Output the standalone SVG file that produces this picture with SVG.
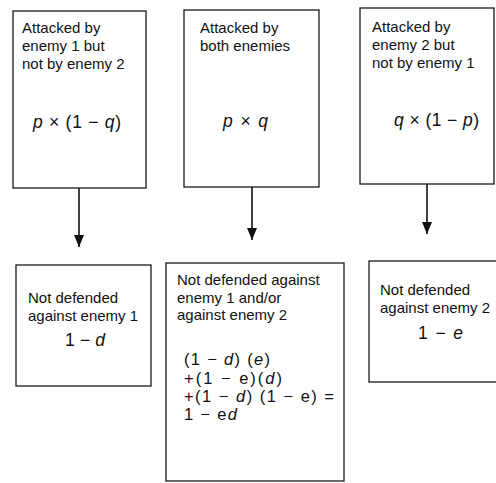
<svg xmlns="http://www.w3.org/2000/svg" width="496" height="483" viewBox="0 0 496 483">
<style>
.box{fill:#fff;stroke:#1a1a1a;stroke-width:1.3}
.t{font-family:"Liberation Sans",Arial,sans-serif;font-size:15px;fill:#111}
.f{font-family:"Liberation Sans",Arial,sans-serif;font-size:17.5px;fill:#111}
.g{font-family:"Liberation Sans",Arial,sans-serif;font-size:16.5px;fill:#111}
.i{font-style:italic}
.edge{stroke:#111;stroke-width:1.6;fill:none}
</style>
<defs>
<marker id="ah" viewBox="0 0 12 10" refX="12" refY="5" markerWidth="12" markerHeight="10" markerUnits="userSpaceOnUse" orient="auto">
<path d="M0,0 L12,5 L0,10 Z" fill="#111"/>
</marker>
</defs>
<rect width="496" height="483" fill="#fff"/>
<g id="connectors">
<line class="edge" x1="79" y1="188" x2="79" y2="247" marker-end="url(#ah)"/>
<line class="edge" x1="252" y1="187" x2="252" y2="240" marker-end="url(#ah)"/>
<line class="edge" x1="427" y1="184" x2="427" y2="234" marker-end="url(#ah)"/>
</g>
<g id="node-attacked-1">
<rect class="box" x="13" y="11" width="133" height="177"/>
<text class="t" x="22" y="33">Attacked by</text>
<text class="t" x="22" y="51">enemy 1 but</text>
<text class="t" x="22" y="69">not by enemy 2</text>
<text class="f" x="33" y="128" textLength="88" lengthAdjust="spacing"><tspan class="i">p</tspan> × (1 − <tspan class="i">q</tspan>)</text>
</g>
<g id="node-attacked-both">
<rect class="box" x="184" y="10" width="135" height="177"/>
<text class="t" x="200" y="33">Attacked by</text>
<text class="t" x="200" y="51">both enemies</text>
<text class="f" x="223" y="127" textLength="45" lengthAdjust="spacing"><tspan class="i">p</tspan> × <tspan class="i">q</tspan></text>
</g>
<g id="node-attacked-2">
<rect class="box" x="360" y="8" width="134" height="176"/>
<text class="t" x="372" y="32">Attacked by</text>
<text class="t" x="372" y="50">enemy 2 but</text>
<text class="t" x="372" y="68">not by enemy 1</text>
<text class="f" x="394" y="126" textLength="85" lengthAdjust="spacing"><tspan class="i">q</tspan> × (1 − <tspan class="i">p</tspan>)</text>
</g>
<g id="node-not-defended-1">
<rect class="box" x="16" y="265" width="135" height="121"/>
<text class="t" x="28" y="303">Not defended</text>
<text class="t" x="28" y="321">against enemy 1</text>
<text class="f" x="65" y="346" textLength="40" lengthAdjust="spacing">1 − <tspan class="i">d</tspan></text>
</g>
<g id="node-not-defended-either">
<rect class="box" x="166" y="263" width="178" height="218"/>
<text class="t" x="177" y="285">Not defended against</text>
<text class="t" x="177" y="303">enemy 1 and/or</text>
<text class="t" x="177" y="320">against enemy 2</text>
<text class="g" x="184" y="365" textLength="86" lengthAdjust="spacing">(1 − <tspan class="i">d</tspan>) (<tspan class="i">e</tspan>)</text>
<text class="g" x="184" y="384" textLength="98" lengthAdjust="spacing">+(1 − e)(<tspan class="i">d</tspan>)</text>
<text class="g" x="184" y="402" textLength="150" lengthAdjust="spacing">+(1 − <tspan class="i">d</tspan>) (1 − e) =</text>
<text class="g" x="184" y="420" textLength="53" lengthAdjust="spacing">1 − e<tspan class="i">d</tspan></text>
</g>
<g id="node-not-defended-2">
<rect class="box" x="369" y="261" width="140" height="121"/>
<text class="t" x="380" y="295">Not defended</text>
<text class="t" x="380" y="313">against enemy 2</text>
<text class="f" x="418" y="339" textLength="45" lengthAdjust="spacing">1 − <tspan class="i">e</tspan></text>
</g>
</svg>
